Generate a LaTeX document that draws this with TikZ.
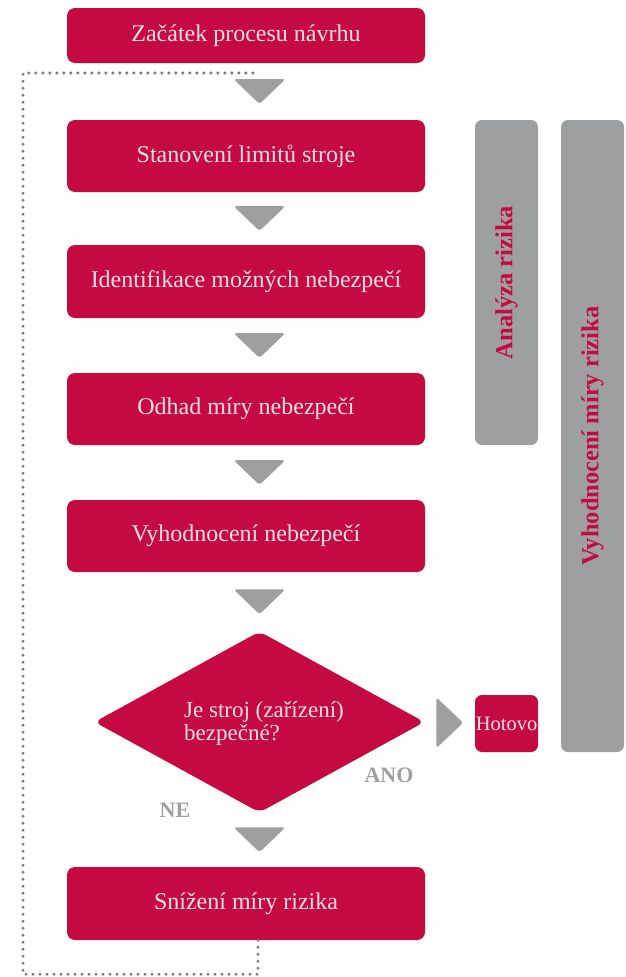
\documentclass[tikz,border=0pt]{standalone}
\usepackage{fontspec}
\setmainfont{Liberation Serif}
\usetikzlibrary{calc,shapes.geometric}
\definecolor{crim}{RGB}{196,10,65}
\definecolor{gry}{RGB}{158,159,160}
\definecolor{dotgry}{RGB}{125,125,128}
\definecolor{pinktxt}{RGB}{250,222,232}
\tikzset{
  stepbox/.style={draw=none,fill=crim,rounded corners=8pt,minimum width=358pt,inner sep=0pt,text=pinktxt,font=\fontsize{24}{26}\selectfont},
  sidebar/.style={fill=gry,rounded corners=7pt,minimum width=63pt,inner sep=0pt},
  sidetext/.style={rotate=90,text=crim,font=\bfseries\fontsize{24.5}{26}\selectfont},
  downtri/.style={fill=gry,rounded corners=3pt},
  lbl/.style={text=gry,font=\bfseries\fontsize{22}{24}\selectfont},
  loopline/.style={draw=dotgry,line width=3.4pt,line cap=round,dash pattern=on 0pt off 7pt}
}
\begin{document}
\begin{tikzpicture}[x=1pt,y=-1pt]
\useasboundingbox (0,0) rectangle (625,977);
% boxes
\node[stepbox,minimum height=55pt] (b1) at (246,35.5) {Začátek procesu návrhu};
\node[stepbox,minimum height=72pt] (b2) at (246,156) {Stanovení limitů stroje};
\node[stepbox,minimum height=73pt] (b3) at (246,281.5) {Identifikace možných nebezpečí};
\node[stepbox,minimum height=72pt] (b4) at (246,409) {Odhad míry nebezpečí};
\node[stepbox,minimum height=72pt] (b5) at (246,536) {Vyhodnocení nebezpečí};
\node[diamond,fill=crim,minimum width=330pt,minimum height=181pt,inner sep=0pt,rounded corners=7pt] (d) at (259.5,722) {};
\node[text=pinktxt,align=left,inner sep=0pt,font=\fontsize{23}{23}\selectfont] (dt) at (264,723) {Je stroj (zařízení)\\bezpečné?};
\node[stepbox,minimum height=73pt] (b6) at (246,903.5) {Snížení míry rizika};
\node[stepbox,minimum width=63pt,minimum height=57pt,rounded corners=7pt,font=\fontsize{20.5}{22}\selectfont] (h) at (506.5,723.5) {Hotovo};
% side bars
\node[sidebar,minimum height=325pt] (s1) at (506.5,282.5) {};
\node[sidetext] at (s1.center) {Analýza rizika};
\node[sidebar,minimum height=632pt] (s2) at (592.5,436) {};
\node[sidetext] at (s2.center) {Vyhodnocení míry rizika};
% labels
\node[lbl] (ano) at (389,775) {ANO};
\node[lbl] (ne) at (175,810) {NE};
% down arrows
\foreach \a/\b in {b1/b2,b2/b3,b3/b4,b4/b5,b5/d,d/b6}{
  \coordinate (m) at ($(\a.south)!0.5!(\b.north)$);
  \fill[downtri] (m -| d.center) ++(-26,-12.5) -- ++(52,0) -- ++(-26,25) -- cycle;
}
% right arrow
\coordinate (mr) at ($(d.east)!0.5!(h.west)$);
\fill[downtri] (mr) ++(-13.5,-25.5) -- ++(27,25.5) -- ++(-27,25.5) -- cycle;
% dotted loop
\coordinate (loopend) at (258,73);
\draw[loopline] ([xshift=12pt]b6.south) -- ++(0,34) -| (23,73) -- (loopend);
\end{tikzpicture}
\end{document}
